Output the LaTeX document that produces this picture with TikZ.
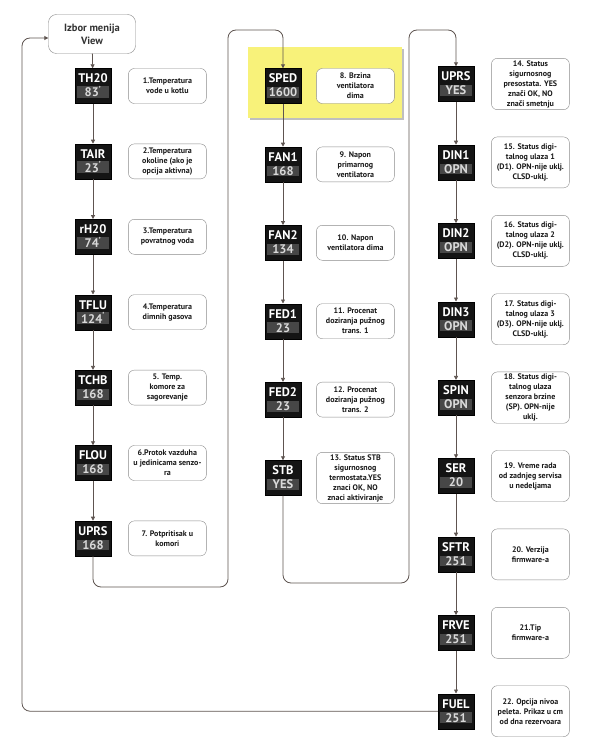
\documentclass[tikz,border=0pt]{standalone}
\usepackage{fontspec}
\setmainfont{PT Sans}
\usetikzlibrary{arrows.meta,positioning}
\definecolor{linegray}{HTML}{5E5450}
\definecolor{boxgray}{HTML}{8A8A8A}
\definecolor{valgray}{HTML}{474747}
\definecolor{hiyellow}{HTML}{F8F27A}
\newcommand{\dval}[1]{{\setlength{\fboxsep}{0.8pt}\colorbox{valgray}{\makebox[31pt]{\color{white!85!black}#1}}}}

\begin{document}
\begin{tikzpicture}[x=1pt,y=-1pt,
    node distance=40pt and 17pt,
    disp/.style={fill=black!92,draw=black,text=white,font=\fontsize{12.5}{14}\selectfont\bfseries,
                 align=center,minimum width=36pt,minimum height=35pt,inner sep=1.5pt},
    descr/.style={draw=boxgray,fill=white,rounded corners=6pt,align=center,text=black!90,
                  minimum width=78pt,minimum height=35pt,inner sep=2pt,
                  font=\fontsize{8}{10}\selectfont\bfseries},
    tall/.style={minimum height=51pt},
    arr/.style={-{Triangle[length=4pt,width=4pt]},draw=linegray,line width=0.8pt},
    loopline/.style={arr,rounded corners=8pt}]
  \useasboundingbox (0,0) rectangle (600,741);
  % highlighted entry
  \fill[black!25] (250,49) rectangle (404,120);
  \fill[hiyellow] (248,47) rectangle (402,118);

  \node[draw=boxgray,fill=white,rounded corners=8pt,align=center,text=black!80,
        minimum width=87pt,minimum height=39pt,font=\fontsize{10.5}{13}\selectfont\bfseries]
        (start) at (92,34) {Izbor menija\\View};

  % column 1
  \node[disp] (th20) at (93,86) {TH20\\\dval{83\textsuperscript{'}}};
  \node[disp,below=of th20] (tair) {TAIR\\\dval{23\textsuperscript{'}}};
  \node[disp,below=of tair] (rh20) {rH20\\\dval{74\textsuperscript{'}}};
  \node[disp,below=of rh20] (tflu) {TFLU\\\dval{124\textsuperscript{'}}};
  \node[disp,below=of tflu] (tchb) {TCHB\\\dval{168}};
  \node[disp,below=of tchb] (flou) {FLOU\\\dval{168}};
  \node[disp,below=of flou] (uprsa) {UPRS\\\dval{168}};
  \node[descr,right=of th20] (d1) {1.Temperatura\\vode u kotlu};
  \node[descr,right=of tair] (d2) {2.Temperatura\\okoline (ako je\\opcija aktivna)};
  \node[descr,right=of rh20] (d3) {3.Temperatura\\povratnog voda};
  \node[descr,right=of tflu] (d4) {4.Temperatura\\dimnih gasova};
  \node[descr,right=of tchb] (d5) {5. Temp.\\komore za\\sagorevanje};
  \node[descr,right=of flou] (d6) {6.Protok vazduha\\u jedinicama senzo-\\ra};
  \node[descr,right=of uprsa] (d7) {7. Potpritisak u\\komori};

  % column 2
  \node[disp] (sped) at (283,86) {SPED\\\dval{1600}};
  \node[disp,below=43pt of sped] (fan1) {FAN1\\\dval{168}};
  \node[disp,below=43pt of fan1] (fan2) {FAN2\\\dval{134}};
  \node[disp,below=43pt of fan2] (fed1) {FED1\\\dval{23}};
  \node[disp,below=43pt of fed1] (fed2) {FED2\\\dval{23}};
  \node[disp,below=43pt of fed2] (stb) {STB\\\dval{YES}};
  \node[descr,right=15pt of sped] (d8) {8. Brzina\\ventilatora\\dima};
  \node[descr,right=15pt of fan1] (d9) {9. Napon\\primarnog\\ventilatora};
  \node[descr,right=15pt of fan2] (d10) {10. Napon\\ventilatora dima};
  \node[descr,right=15pt of fed1] (d11) {11. Procenat\\doziranja pužnog\\trans. 1};
  \node[descr,right=15pt of fed2] (d12) {12. Procenat\\doziranja pužnog\\trans. 2};
  \node[descr,right=15pt of stb] (d13) {13. Status STB\\sigurnosnog\\termostata.YES\\znaci OK, NO\\znaci aktiviranje};

  % column 3
  \node[disp] (uprsb) at (456,84) {UPRS\\\dval{YES}};
  \node[disp,below=43pt of uprsb] (din1) {DIN1\\\dval{OPN}};
  \node[disp,below=43pt of din1] (din2) {DIN2\\\dval{OPN}};
  \node[disp,below=43pt of din2] (din3) {DIN3\\\dval{OPN}};
  \node[disp,below=43pt of din3] (spin) {SPIN\\\dval{OPN}};
  \node[disp,below=43pt of spin] (ser) {SER\\\dval{20}};
  \node[disp,below=43pt of ser] (sftr) {SFTR\\\dval{251}};
  \node[disp,below=43pt of sftr] (frve) {FRVE\\\dval{251}};
  \node[disp,below=43pt of frve] (fuel) {FUEL\\\dval{251}};
  \node[descr,tall,right=of uprsb] (d14) {14. Status\\sigurnosnog\\presostata. YES\\znači OK, NO\\znači smetnju};
  \node[descr,tall,right=of din1] (d15) {15. Status digi-\\talnog ulaza 1\\(D1). OPN-nije uklj.\\CLSD-uklj.};
  \node[descr,tall,right=of din2] (d16) {16. Status digi-\\talnog ulaza 2\\(D2). OPN-nije uklj.\\CLSD-uklj.};
  \node[descr,tall,right=of din3] (d17) {17. Status digi-\\talnog ulaza 3\\(D3). OPN-nije uklj.\\CLSD-uklj.};
  \node[descr,tall,right=of spin] (d18) {18. Status digi-\\talnog ulaza\\senzora brzine\\(SP). OPN-nije\\uklj.};
  \node[descr,tall,right=of ser] (d19) {19. Vreme rada\\od zadnjeg servisa\\u nedeljama};
  \node[descr,tall,right=of sftr] (d20) {20. Verzija\\firmware-a};
  \node[descr,tall,right=of frve] (d21) {21.Tip\\firmware-a};
  \node[descr,tall,right=of fuel] (d22) {22. Opcija nivoa\\peleta. Prikaz u cm\\od dna rezervoara};

  % loop corners
  \coordinate (la1) at (228,587);
  \coordinate (la2) at (228,30);
  \coordinate (lb1) at (409,583);
  \coordinate (lb2) at (409,30);
  \coordinate (lc) at (22,38);

  \draw[arr] (start) -- (th20);
  \draw[arr] (th20) -- (tair);
  \draw[arr] (tair) -- (rh20);
  \draw[arr] (rh20) -- (tflu);
  \draw[arr] (tflu) -- (tchb);
  \draw[arr] (tchb) -- (flou);
  \draw[arr] (flou) -- (uprsa);
  \draw[loopline] (uprsa.south) |- (la1) -- (la2) -| (sped.north);
  \draw[arr] (sped) -- (fan1);
  \draw[arr] (fan1) -- (fan2);
  \draw[arr] (fan2) -- (fed1);
  \draw[arr] (fed1) -- (fed2);
  \draw[arr] (fed2) -- (stb);
  \draw[loopline] (stb.south) |- (lb1) -- (lb2) -| (uprsb.north);
  \draw[arr] (uprsb) -- (din1);
  \draw[arr] (din1) -- (din2);
  \draw[arr] (din2) -- (din3);
  \draw[arr] (din3) -- (spin);
  \draw[arr] (spin) -- (ser);
  \draw[arr] (ser) -- (sftr);
  \draw[arr] (sftr) -- (frve);
  \draw[arr] (frve) -- (fuel);
  \draw[loopline] (fuel.west) -| (lc) -- (start.west |- lc);
\end{tikzpicture}
\end{document}
